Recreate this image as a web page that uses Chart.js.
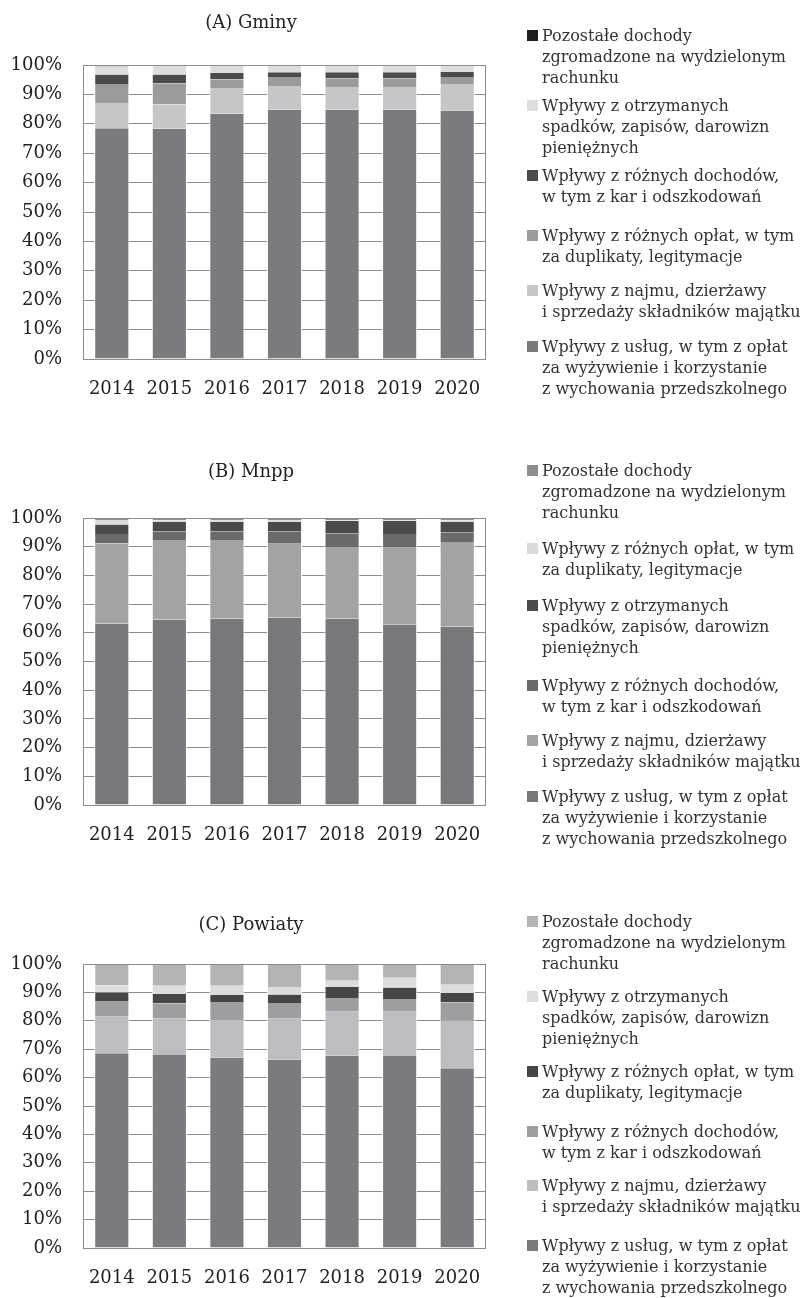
<!DOCTYPE html>
<html>
<head>
<meta charset="utf-8">
<script src="https://cdn.jsdelivr.net/npm/chart.js"></script>
<style>
body { margin:0; background:#fff; }
.panel { position:absolute; left:0; width:801px; }
</style>
</head>
<body>
<div class="panel" style="top:0px"><canvas id="chartA" width="801" height="440"></canvas></div>
<div class="panel" style="top:440px"><canvas id="chartB" width="801" height="440"></canvas></div>
<div class="panel" style="top:880px"><canvas id="chartC" width="801" height="418"></canvas></div>
<script>
// lata
const years = ["2014", "2015", "2016", "2017", "2018", "2019", "2020"];

// (A) Gminy - udzial w %
const gminyUslugi    = [78.5, 78.3, 83.4, 84.8, 84.8, 84.8, 84.5];
const gminyNajem     = [8.3, 8.3, 8.8, 7.8, 7.5, 7.5, 8.8];
const gminyOplaty    = [6.7, 7.2, 2.9, 3.1, 3.1, 3.1, 2.4];
const gminyDochody   = [3.3, 3.0, 2.3, 1.8, 2.1, 2.1, 1.9];
const gminySpadki    = [2.7, 2.9, 2.4, 2.3, 2.3, 2.2, 2.2];
const gminyPozostale = [0.5, 0.3, 0.2, 0.2, 0.2, 0.3, 0.2];

// (B) Mnpp
const mnppUslugi    = [63.2, 64.6, 65.0, 65.3, 65.0, 62.8, 62.2];
const mnppNajem     = [28.0, 27.7, 27.3, 25.7, 24.9, 26.8, 29.4];
const mnppDochody   = [3.2, 3.1, 3.1, 4.4, 4.8, 4.8, 3.4];
const mnppSpadki    = [3.3, 3.2, 3.2, 3.2, 4.3, 4.6, 3.6];
const mnppOplaty    = [1.6, 0.6, 0.5, 0.5, 0.2, 0.2, 0.6];
const mnppPozostale = [0.7, 0.8, 0.9, 0.9, 0.8, 0.8, 0.8];

// (C) Powiaty
const powiatyUslugi    = [68.6, 68.0, 67.1, 66.4, 67.8, 67.6, 63.3];
const powiatyNajem     = [12.8, 12.7, 13.2, 14.3, 15.4, 15.6, 16.9];
const powiatyDochody   = [5.6, 5.5, 6.3, 5.6, 4.8, 4.5, 6.2];
const powiatyOplaty    = [3.0, 3.2, 2.5, 3.0, 3.9, 4.0, 3.4];
const powiatySpadki    = [2.4, 2.9, 3.2, 2.6, 2.2, 3.5, 2.9];
const powiatyPozostale = [7.6, 7.7, 7.7, 8.1, 5.9, 4.8, 7.3];

// opisy legendy
const txtUslugi    = ["Wpływy z usług, w tym z opłat", "za wyżywienie i korzystanie", "z wychowania przedszkolnego"];
const txtNajem     = ["Wpływy z najmu, dzierżawy", "i sprzedaży składników majątku"];
const txtOplaty    = ["Wpływy z różnych opłat, w tym", "za duplikaty, legitymacje"];
const txtDochody   = ["Wpływy z różnych dochodów,", "w tym z kar i odszkodowań"];
const txtSpadki    = ["Wpływy z otrzymanych", "spadków, zapisów, darowizn", "pieniężnych"];
const txtPozostale = ["Pozostałe dochody", "zgromadzone na wydzielonym", "rachunku"];

const FONT = "'DejaVu Serif', serif";
const GRID = "#8c8c8c";
const PLOT_LEFT = 83, PLOT_RIGHT = 486;

var decor = {
    id: "decor",
    afterDraw: function(chart) {
        var c = chart.ctx, a = chart.chartArea, o = chart.options.decor;
        c.save();
        c.strokeStyle = GRID;
        c.lineWidth = 1;
        c.strokeRect(a.left + 0.5, a.top + 0.5, a.right - a.left - 1, a.bottom - a.top);
        // tytul
        c.fillStyle = "#222";
        c.font = "18px " + FONT;
        c.textAlign = "center";
        c.textBaseline = "middle";
        c.fillText(o.title, 251, o.titleY);
        // legenda (odwrotna kolejnosc)
        c.textAlign = "left";
        c.font = "16px " + FONT;
        var ds = chart.data.datasets;
        for (var k = 0; k < ds.length; k++) {
            var d = ds[ds.length - 1 - k];
            var y0 = o.legendY[k];
            c.fillStyle = d.backgroundColor;
            c.fillRect(527, y0 - 7, 11, 11);
            c.fillStyle = "#333";
            for (var j = 0; j < d.lines.length; j++) {
                c.fillText(d.lines[j], 542, y0 + j * 21);
            }
        }
        c.restore();
    }
};

function makeChart(id, title, series, colors, texts, box) {
    var canvas = document.getElementById(id);
    var H = canvas.height;
    var datasets = [];
    for (var i = 0; i < series.length; i++) {
        datasets.push({
            label: texts[i].join(" "),
            lines: texts[i],
            data: series[i],
            backgroundColor: colors[i],
            borderColor: "#ffffff",
            borderWidth: {left: 1, right: 1, top: 0, bottom: 0},
            borderSkipped: false,
            barPercentage: 0.61,
            categoryPercentage: 1
        });
    }
    new Chart(canvas.getContext("2d"), {
        type: "bar",
        data: { labels: years, datasets: datasets },
        options: {
            responsive: false,
            animation: false,
            layout: { padding: { top: box.top, right: 801 - PLOT_RIGHT, left: 0, bottom: 0 } },
            decor: { title: title, titleY: box.titleY, legendY: box.legendY },
            plugins: { legend: { display: false }, tooltip: { enabled: false } },
            scales: {
                x: {
                    stacked: true,
                    grid: { display: false },
                    border: { display: false },
                    ticks: { color: "#222", font: { family: FONT, size: 18 }, padding: 12, maxRotation: 0 },
                    afterFit: function(s) { s.height = H - box.bottom; }
                },
                y: {
                    stacked: true,
                    min: 0,
                    max: 100,
                    grid: { color: GRID, lineWidth: 1, drawTicks: false },
                    border: { display: true, color: GRID },
                    ticks: {
                        stepSize: 10,
                        color: "#222",
                        padding: 21,
                        font: { family: FONT, size: 18 },
                        callback: function(v) { return v + "%"; }
                    },
                    afterFit: function(s) { s.width = PLOT_LEFT; }
                }
            }
        },
        plugins: [decor]
    });
}

makeChart("chartA", "(A) Gminy",
    [gminyUslugi, gminyNajem, gminyOplaty, gminyDochody, gminySpadki, gminyPozostale],
    ["#7a7b7f", "#c5c6c8", "#9a9b9d", "#4a4b4d", "#dcdddf", "#1e1e1e"],
    [txtUslugi, txtNajem, txtOplaty, txtDochody, txtSpadki, txtPozostale],
    { top: 65, bottom: 359, titleY: 23, legendY: [37, 107, 177, 237, 292, 348] });

makeChart("chartB", "(B) Mnpp",
    [mnppUslugi, mnppNajem, mnppDochody, mnppSpadki, mnppOplaty, mnppPozostale],
    ["#77787b", "#a3a3a3", "#6a6a6a", "#4a4a4c", "#dadada", "#8e8e8e"],
    [txtUslugi, txtNajem, txtDochody, txtSpadki, txtOplaty, txtPozostale],
    { top: 78, bottom: 365, titleY: 32, legendY: [32, 110, 167, 247, 302, 358] });

makeChart("chartC", "(C) Powiaty",
    [powiatyUslugi, powiatyNajem, powiatyDochody, powiatyOplaty, powiatySpadki, powiatyPozostale],
    ["#7a7b7f", "#bcbdc0", "#9d9ea0", "#454648", "#dcdddf", "#b3b4b6"],
    [txtUslugi, txtNajem, txtDochody, txtOplaty, txtSpadki, txtPozostale],
    { top: 84, bottom: 368, titleY: 45, legendY: [43, 118, 193, 253, 307, 367] });
</script>
</body>
</html>
